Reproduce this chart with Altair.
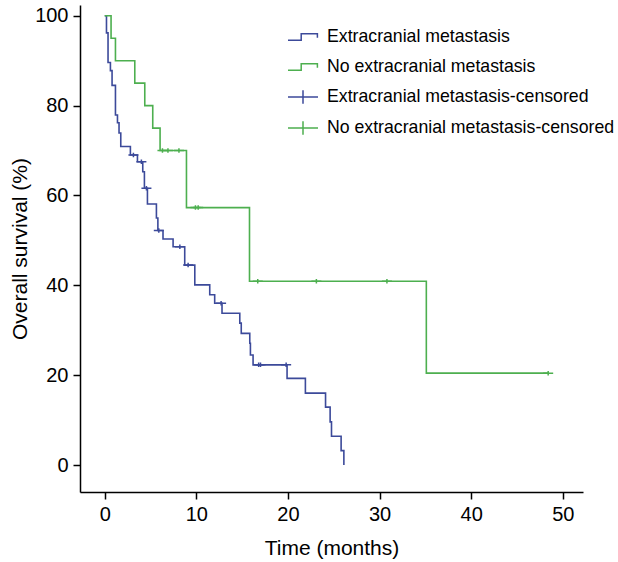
import altair as alt
import pandas as pd

BLUE = "#3C4A9A"
GREEN = "#4DAF4F"

labels = [
    "Extracranial metastasis",
    "No extracranial metastasis",
    "Extracranial metastasis-censored",
    "No extracranial metastasis-censored",
]

# Kaplan-Meier step points (time in months, survival %)
blue_t = [0, 0.19, 0.36, 0.62, 0.80, 1.17, 1.39, 1.56, 1.75, 2.80, 3.57, 4.15, 4.33, 4.66,
          5.64, 5.80, 6.36, 7.46, 8.73, 9.83, 11.46, 12.00, 12.80, 14.74, 14.90, 15.83,
          15.90, 16.19, 19.90, 21.90, 24.10, 24.60, 24.75, 25.80, 26.10]
blue_s = [100, 96.2, 89.6, 87.8, 84.5, 77.9, 76.2, 73.9, 70.9, 69.0, 67.5, 65.3, 61.6, 58.1,
          55.0, 52.2, 50.3, 48.6, 44.5, 40.1, 37.9, 36.0, 33.8, 31.6, 29.3, 27.1,
          24.5, 22.3, 19.3, 16.0, 12.9, 9.6, 6.4, 3.2, 0]

green_t = [0, 0.69, 1.17, 3.28, 4.37, 5.24, 6.04, 8.92, 15.8, 35.1, 48.4]
green_s = [100, 95, 90, 85, 80, 75, 70, 57.3, 40.9, 20.45, 20.45]

blue_cens_t = [3.13, 4.0, 4.55, 5.9, 8.2, 9.1, 12.7, 16.8, 17.0, 19.8]
blue_cens_s = [69.0, 67.5, 61.6, 52.2, 48.6, 44.5, 36.0, 22.3, 22.3, 22.3]

green_cens_t = [6.3, 6.9, 8.1, 9.9, 10.2, 16.7, 23.1, 30.8, 48.4]
green_cens_s = [70, 70, 70, 57.3, 57.3, 40.9, 40.9, 40.9, 20.45]

x_ticks = [0, 10, 20, 30, 40, 50]
y_ticks = [0, 20, 40, 60, 80, 100]

lines_df = pd.concat([
    pd.DataFrame({"t": blue_t, "s": blue_s, "series": labels[0]}),
    pd.DataFrame({"t": green_t, "s": green_s, "series": labels[1]}),
])
cens_df = pd.concat([
    pd.DataFrame({"t": blue_cens_t, "s": blue_cens_s, "series": labels[2]}),
    pd.DataFrame({"t": green_cens_t, "s": green_cens_s, "series": labels[3]}),
])

STEP = "M-1,0.22H-0.12V-0.22H0.96V0.05"
CROSS = "M-1,0H1M0,-0.45V0.45"

color_scale = alt.Scale(domain=labels, range=[BLUE, GREEN, BLUE, GREEN])
shape_scale = alt.Scale(domain=labels, range=[STEP, STEP, CROSS, CROSS])

legend = alt.Legend(
    title=None, orient="none", legendX=207, legendY=16,
    labelFontSize=17.7, labelFont="Liberation Sans", labelColor="black",
    labelLimit=500, symbolSize=900, symbolStrokeWidth=1.5, labelOffset=8,
    rowPadding=5, padding=0, symbolFillColor="transparent",
)

x_enc = alt.X("t:Q", scale=alt.Scale(domain=[-2.7, 52.2], nice=False, zero=False),
              axis=alt.Axis(values=x_ticks, title="Time (months)", titlePadding=13))
y_enc = alt.Y("s:Q", scale=alt.Scale(domain=[-6.0, 102.4], nice=False, zero=False),
              axis=alt.Axis(values=y_ticks, title="Overall survival (%)", titlePadding=4))

lines = alt.Chart(lines_df).mark_line(interpolate="step-after", strokeWidth=1.6).encode(
    x=x_enc, y=y_enc,
    color=alt.Color("series:N", scale=color_scale, legend=legend),
)

points = alt.Chart(cens_df).mark_point(filled=False, size=100, strokeWidth=1.5, opacity=1).encode(
    x=x_enc, y=y_enc,
    color=alt.Color("series:N", scale=color_scale, legend=legend),
    shape=alt.Shape("series:N", scale=shape_scale, legend=legend),
)

chart = alt.layer(lines, points).properties(
    width=503, height=487,
    background="white",
    autosize=alt.AutoSizeParams(type="none"),
    padding={"left": 80, "top": 5, "right": 35, "bottom": 70},
).configure_view(stroke=None).configure_axis(
    grid=False, domainColor="black", domainWidth=1.5, tickColor="black", tickWidth=1.5,
    tickSize=7, labelFontSize=20, titleFontSize=21, labelFont="Liberation Sans",
    titleFont="Liberation Sans", labelColor="black", titleColor="black",
    titleFontWeight="normal", labelPadding=5,
)

chart.save("out.html", embed_options={"renderer": "svg", "actions": False})
